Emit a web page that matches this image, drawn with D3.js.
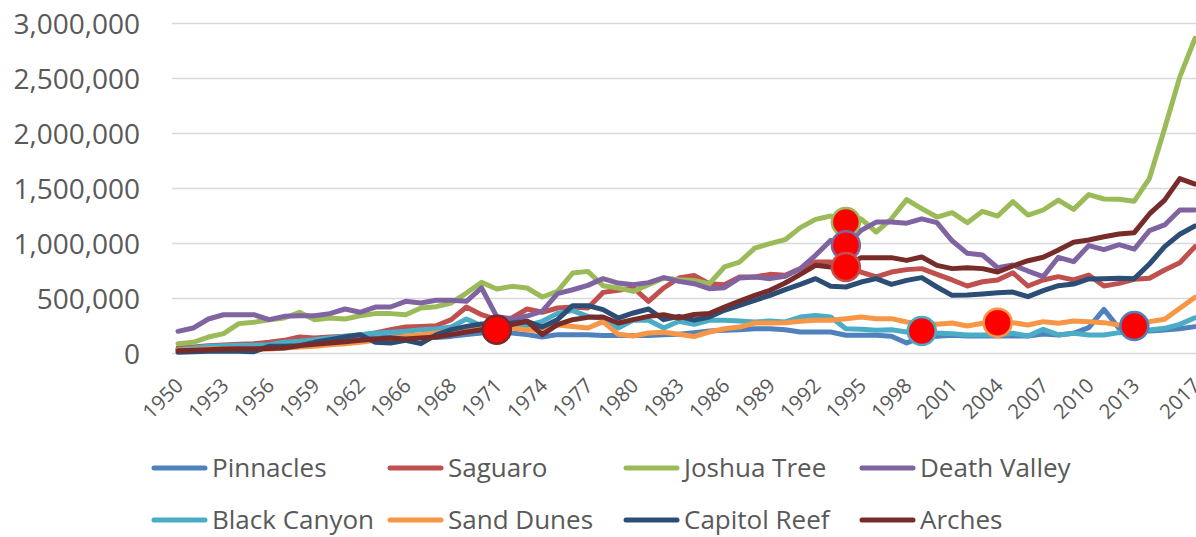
<!DOCTYPE html>
<html><head><meta charset="utf-8">
<script src="https://cdn.jsdelivr.net/npm/d3@7"></script>
<style>
html,body{margin:0;padding:0;background:#fff;overflow:hidden}
svg{display:block}
text{font-family:"Open Sans",sans-serif;fill:#595959}
</style></head><body>
<svg id="chart" width="1196" height="537"></svg>
<script>
// ---------- data ----------
const categories = [1950,1951,1952,1953,1954,1955,1956,1957,1958,1959,1960,1961,1962,1963,1964,1965,1966,1967,1968,1969,
  1970,1971,1972,1973,1974,1975,1976,1977,1978,1979,1980,1981,1982,1983,1984,1985,1986,1987,1988,1989,
  1990,1991,1992,1993,1994,1995,1996,1997,1998,1999,2000,2001,2002,2003,2004,2005,2006,2007,2008,2009,
  2010,2011,2012,2013,2014,2015,2016,2017];
const tickLabels = ["1950","1953","1956","1959","1962","1966","1968","1971","1974","1977","1980","1983","1986",
  "1989","1992","1995","1998","2001","2004","2007","2010","2013","2017"];
const yTicks = [0,500000,1000000,1500000,2000000,2500000,3000000];

const seriesNames = ["Pinnacles","Saguaro","Joshua Tree","Death Valley","Black Canyon","Sand Dunes","Capitol Reef","Arches"];

const pinnacles = [30,36,36,36,36,36,45,61,67,85,91,106,121,136,145,152,158,140,151,167,182,185,182,167,145,167,167,167,160,160,160,160,165,170,185,200,206,212,221,221,212,191,191,191,161,161,161,152,91,145,152,161,155,155,155,155,155,173,164,179,230,397,224,245,200,210,220,240].map(v=>v*1000);
const saguaro = [45,55,67,73,79,85,97,115,145,136,145,152,158,182,212,236,242,248,303,418,348,303,318,400,370,409,418,409,551,570,591,470,591,682,705,630,621,691,691,715,706,767,827,827,782,736,691,736,758,767,715,664,609,648,664,730,609,664,694,664,709,609,633,670,679,755,821,967].map(v=>v*1000);
const joshuaTree = [85,97,145,176,267,279,303,318,370,303,318,309,339,358,358,348,409,421,455,545,642,582,606,591,509,560,727,742,612,591,560,621,682,667,660,630,782,827,954,994,1030,1140,1215,1245,1190,1220,1100,1220,1394,1312,1236,1276,1185,1288,1245,1376,1254,1300,1390,1306,1440,1400,1397,1380,1588,2040,2510,2860].map(v=>v*1000);
const deathValley = [197,227,309,348,348,348,303,333,339,339,358,400,370,418,418,470,455,480,479,470,591,330,310,336,380,540,575,615,676,636,620,640,685,651,630,585,594,682,691,676,697,767,888,1024,979,1115,1190,1190,1180,1220,1185,1020,906,891,775,800,745,694,870,830,976,940,985,945,1112,1164,1300,1300].map(v=>v*1000);
const blackCanyon = [30,45,61,67,70,70,76,97,106,121,136,152,167,182,188,197,212,218,236,309,248,240,248,248,288,360,385,333,315,227,300,297,227,288,260,297,297,291,282,291,282,327,342,327,221,215,206,212,191,200,182,176,164,164,164,179,155,215,164,179,164,164,185,194,209,224,260,320].map(v=>v*1000);
const sandDunes = [24,30,36,39,39,33,36,45,55,61,76,85,97,115,133,152,167,182,197,212,227,230,227,210,205,255,240,227,285,170,155,182,188,170,150,191,221,236,273,273,276,288,297,297,312,327,312,312,282,267,261,273,245,270,276,276,255,285,270,291,285,276,255,245,285,306,406,506].map(v=>v*1000);
const capitolReef = [6,12,15,15,15,12,61,61,67,97,121,145,167,97,91,115,85,165,212,242,264,265,273,288,236,303,430,430,394,318,364,400,303,333,300,327,388,433,479,524,576,624,676,606,600,645,676,624,660,685,600,524,527,536,548,554,512,567,612,627,673,676,679,676,809,967,1079,1154].map(v=>v*1000);
const arches = [21,24,30,36,39,39,42,45,67,79,91,103,115,127,136,127,136,145,167,191,212,212,258,288,167,258,303,324,327,273,303,333,348,318,350,358,418,473,524,570,636,715,797,782,790,867,867,867,842,873,797,767,776,767,736,791,839,870,936,1006,1027,1057,1082,1094,1264,1390,1585,1536].map(v=>v*1000);

// highlighted points: [series, year]
const markers = [["Arches",1971],["Joshua Tree",1994],["Death Valley",1994],["Saguaro",1994],["Black Canyon",1999],["Sand Dunes",2004],["Pinnacles",2013]];

const colors = ["#4f81bd","#c0504d","#9bbb59","#8064a2","#4bacc6","#f79646","#2c4d75","#772c2a"];
const seriesValues = [pinnacles,saguaro,joshuaTree,deathValley,blackCanyon,sandDunes,capitolReef,arches];

// ---------- chart ----------
const svg = d3.select("#chart");
const idx = d3.range(categories.length);
const x = d3.scalePoint().domain(idx).range([178,1195]);
const y = d3.scaleLinear().domain([0,3000000]).range([353,23]);

// gridlines
const grid = svg.append("g").attr("transform","translate(172,0)")
  .call(d3.axisRight(y).tickValues(yTicks).tickSize(1030).tickFormat(""));
grid.select(".domain").remove();
grid.selectAll("line").attr("stroke","#d9d9d9").attr("stroke-width",1.6);

// y labels
const ya = svg.append("g").attr("transform","translate(140,0)")
  .call(d3.axisLeft(y).tickValues(yTicks).tickSize(0).tickPadding(0).tickFormat(d3.format(",")));
ya.select(".domain").remove();
ya.selectAll("text").attr("font-size",28).attr("dy","0.36em").style("font-family","'Open Sans',sans-serif").attr("fill","#595959");

// x labels
const shown = idx.filter(i => (i % 3 === 0 && i <= 63) || i === categories.length - 1);
const xa = svg.append("g").attr("transform","translate(0,353)")
  .call(d3.axisBottom(x).tickValues(shown).tickSize(0).tickFormat((d,k)=>tickLabels[k]));
xa.select(".domain").remove();
xa.selectAll("text").attr("x",0).attr("y",0).attr("dy",0)
  .attr("text-anchor","end").attr("transform","translate(6,34) rotate(-45)")
  .attr("font-size",20.5).style("font-family","'Open Sans',sans-serif").attr("fill","#595959");

// lines
const line = d3.line().x((d,i)=>x(i)).y(d=>y(d));
svg.append("g").selectAll("path").data(seriesValues).join("path")
  .attr("d",line).attr("fill","none")
  .attr("stroke",(d,i)=>colors[i]).attr("stroke-width",5)
  .attr("stroke-linejoin","round").attr("stroke-linecap","round");

// markers
svg.append("g").selectAll("circle").data(markers).join("circle")
  .attr("cx",d=>x(categories.indexOf(d[1])))
  .attr("cy",d=>y(seriesValues[seriesNames.indexOf(d[0])][categories.indexOf(d[1])]))
  .attr("r",14).attr("fill","#ff0000")
  .attr("stroke",d=>colors[seriesNames.indexOf(d[0])]).attr("stroke-width",2.5);

// legend
const legX = [154,390,626,862], legY = [468,520];
const leg = svg.append("g").selectAll("g").data(seriesNames).join("g")
  .attr("transform",(d,i)=>`translate(${legX[i%4]},${legY[Math.floor(i/4)]})`);
leg.append("line").attr("x1",0).attr("x2",51).attr("y1",0).attr("y2",0)
  .attr("stroke",(d,i)=>colors[i]).attr("stroke-width",5).attr("stroke-linecap","round");
leg.append("text").attr("x",58).attr("y",0).attr("dy","0.36em").attr("font-size",26).text(d=>d);
</script>
</body></html>
